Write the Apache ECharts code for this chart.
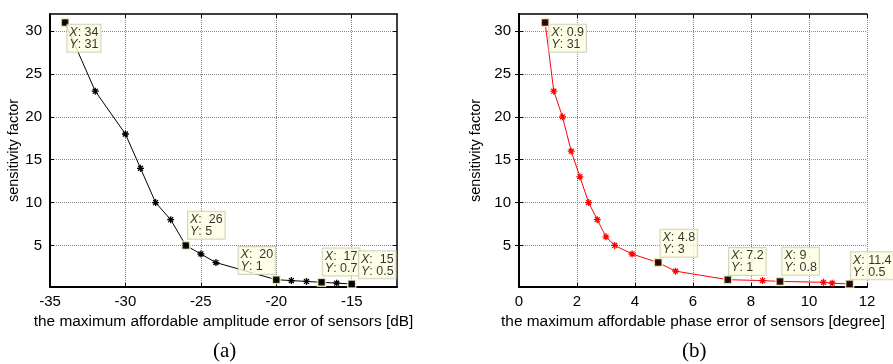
<!DOCTYPE html>
<html>
<head>
<meta charset="utf-8">
<script src="https://cdn.jsdelivr.net/npm/echarts@6/dist/echarts.min.js"></script>
<style>
  html, body { margin: 0; padding: 0; background: #fff; }
  #chart { width: 893px; height: 364px; }
</style>
</head>
<body>
<div id="chart"></div>
<script>
  // (a) amplitude error
  const ampX = [-34, -32, -30, -29, -28, -27, -26, -25, -24, -20, -19, -18, -17, -16, -15]
  const ampY = [31, 23, 18, 14, 10, 8, 5, 4, 3, 1, 0.9, 0.8, 0.7, 0.6, 0.5]
  const ampTipIdx = [0, 6, 9, 12, 14]
  const ampTipText = [['34', '31'], [' 26', '5'], [' 20', '1'], [' 17', '0.7'], [' 15', '0.5']]
  const ampXTicks = [-35, -30, -25, -20, -15]

  // (b) phase error
  const phaseX = [0.9, 1.2, 1.5, 1.8, 2.1, 2.4, 2.7, 3.0, 3.3, 3.9, 4.8, 5.4, 7.2, 8.4, 9, 10.5, 10.8, 11.4]
  const phaseY = [31, 23, 20, 16, 13, 10, 8, 6, 5, 4, 3, 2, 1, 0.9, 0.8, 0.7, 0.6, 0.5]
  const phaseTipIdx = [0, 10, 12, 14, 17]
  const phaseTipText = [['0.9', '31'], ['4.8', '3'], ['7.2', '1'], ['9', '0.8'], ['11.4', '0.5']]
  const phaseXTicks = [0, 2, 4, 6, 8, 10, 12]

  const yTicks = [5, 10, 15, 20, 25, 30]

  // label box offsets for the data tips (relative to marker)
  const ampTipPos = [[7, 7], [7, -29], [-33, -28], [6, -29], [12, -28]]
  const phaseTipPos = [[9, 7], [7, -28], [6, -27], [7, -29], [6, -27]]

  const chart = echarts.init(document.getElementById('chart'))
  const font = 'Liberation Sans, Arial, sans-serif'
  const star = 'path://M5,0L5,10M0,5L10,5M1.5,1.5L8.5,8.5M1.5,8.5L8.5,1.5'

  function xAxes(gi, min, max, ticks, name) {
    return [{
      type: 'value', gridIndex: gi, min: min, max: max, position: 'bottom',
      name: name, nameLocation: 'middle', nameGap: 26,
      nameTextStyle: { fontFamily: font, fontSize: 15.4, color: '#000' },
      axisLine: { lineStyle: { color: '#000', width: 2 } },
      axisTick: { inside: true, length: 4, customValues: ticks, lineStyle: { color: '#000' } },
      axisLabel: { customValues: ticks, fontFamily: font, fontSize: 15, color: '#000', margin: 7 },
      splitLine: { show: true, lineStyle: { type: 'dotted', color: '#888' } }
    }, {
      type: 'value', gridIndex: gi, min: min, max: max, position: 'top',
      axisLine: { lineStyle: { color: '#000', width: 1.5 } },
      axisTick: { inside: true, length: 4, customValues: ticks, lineStyle: { color: '#000' } },
      axisLabel: { show: false },
      splitLine: { show: false }
    }]
  }

  function yAxes(gi, gap) {
    return [{
      type: 'value', gridIndex: gi, min: 0.15, max: 32, position: 'left',
      name: 'sensitivity factor', nameLocation: 'middle', nameGap: gap, nameRotate: 90,
      nameTextStyle: { fontFamily: font, fontSize: 14.5, color: '#000' },
      axisLine: { lineStyle: { color: '#000', width: 2 } },
      axisTick: { inside: true, length: 4, customValues: yTicks, lineStyle: { color: '#000' } },
      axisLabel: { customValues: yTicks, fontFamily: font, fontSize: 15, color: '#000', margin: 8 },
      splitLine: { show: true, lineStyle: { type: 'dotted', color: '#888' } }
    }, {
      type: 'value', gridIndex: gi, min: 0.15, max: 32, position: 'right',
      axisLine: { lineStyle: { color: '#000', width: 1.5 } },
      axisTick: { inside: true, length: 4, customValues: yTicks, lineStyle: { color: '#000' } },
      axisLabel: { show: false },
      splitLine: { show: false }
    }]
  }

  function tipData(xs, ys, idx, text, pos) {
    return idx.map(function(k, i) {
      return {
        value: [xs[k], ys[k]],
        label: {
          position: pos[i],
          formatter: '{i|X}: ' + text[i][0] + '\n{i|Y}: ' + text[i][1]
        }
      }
    })
  }

  const tipStyle = {
    type: 'scatter', symbol: 'rect', symbolSize: 8, z: 5,
    itemStyle: { color: '#000', borderColor: '#ffffc8', borderWidth: 1.5 },
    label: {
      show: true, align: 'left', verticalAlign: 'top',
      fontFamily: font, fontSize: 12.5, color: '#000', lineHeight: 12,
      backgroundColor: '#ffffe1', borderColor: '#c8c8b4', borderWidth: 1,
      padding: [2, 2, 1, 2],
      rich: { i: { fontStyle: 'italic', fontFamily: font, fontSize: 12.5, lineHeight: 12 } }
    },
    emphasis: { disabled: true }
  }

  const option = {
    animation: false,
    grid: [
      { left: 50, top: 14, width: 347, height: 273 },
      { left: 519, top: 14, width: 348, height: 273 }
    ],
    xAxis: xAxes(0, -35, -12, ampXTicks, 'the maximum affordable amplitude error of sensors [dB]')
      .concat(xAxes(1, 0, 12, phaseXTicks, 'the maximum affordable phase error of sensors [degree]')),
    yAxis: yAxes(0, 29).concat(yAxes(1, 36)),
    title: [
      { text: '(a)', left: 208, top: 336, textStyle: { fontFamily: 'Liberation Serif, Times New Roman, serif', fontSize: 21, fontWeight: 'normal', color: '#000' } },
      { text: '(b)', left: 677, top: 336, textStyle: { fontFamily: 'Liberation Serif, Times New Roman, serif', fontSize: 21, fontWeight: 'normal', color: '#000' } }
    ],
    series: [
      {
        type: 'line', xAxisIndex: 0, yAxisIndex: 0,
        data: ampX.map((x, i) => [x, ampY[i]]),
        symbol: star, symbolSize: 7,
        lineStyle: { color: '#000', width: 1 },
        itemStyle: { color: '#000', borderColor: '#000', borderWidth: 1.3 }
      },
      Object.assign({}, tipStyle, {
        xAxisIndex: 0, yAxisIndex: 0,
        data: tipData(ampX, ampY, ampTipIdx, ampTipText, ampTipPos)
      }),
      {
        type: 'line', xAxisIndex: 2, yAxisIndex: 2,
        data: phaseX.map((x, i) => [x, phaseY[i]]),
        symbol: star, symbolSize: 7,
        lineStyle: { color: '#ff0000', width: 1 },
        itemStyle: { color: '#ff0000', borderColor: '#ff0000', borderWidth: 1.3 }
      },
      Object.assign({}, tipStyle, {
        xAxisIndex: 2, yAxisIndex: 2,
        data: tipData(phaseX, phaseY, phaseTipIdx, phaseTipText, phaseTipPos)
      })
    ]
  }
  chart.setOption(option)
</script>
</body>
</html>
